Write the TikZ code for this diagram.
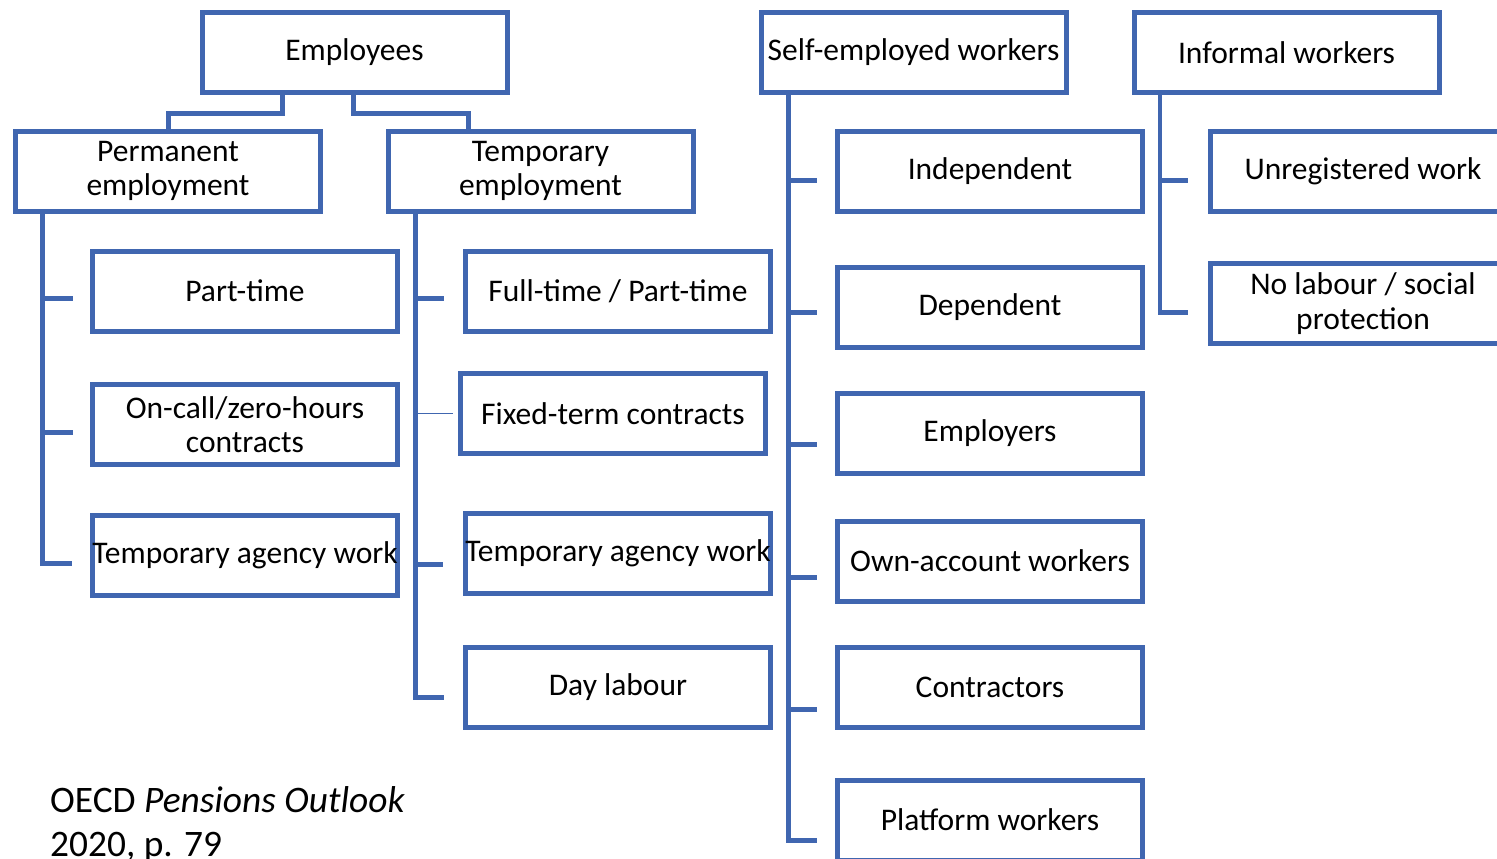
\documentclass[tikz,border=0pt]{standalone}
\usepackage{fontspec}
\setmainfont{Carlito}
\begin{document}
\definecolor{frameblue}{RGB}{64,102,176}
\begin{tikzpicture}[x=1pt,y=-1pt,
  box/.style={draw=frameblue, line width=5pt, rectangle, inner sep=0pt,
    minimum width=305pt, minimum height=80pt, align=center,
    font=\fontsize{31.5pt}{34.5pt}\selectfont},
  conn/.style={draw=frameblue, line width=5pt},
  thinconn/.style={draw=frameblue, line width=1.2pt},
  srctext/.style={anchor=base west, inner sep=0pt, font=\fontsize{37.4pt}{44pt}\selectfont}]
\useasboundingbox (0,0) rectangle (1497,859);
\clip (0,0) rectangle (1497,859);

% top-level categories
\node[box] (emp)  at (354.5,52.5) {Employees};
\node[box] (self) at (913.5,52.5) {Self-employed workers};
\node[box] (inf)  at (1286.5,52.5) {Informal workers};

% employee sub-categories
\node[box] (perm) at (168,171)   {Permanent\\employment};
\node[box] (temp) at (540.5,171) {Temporary\\employment};

% permanent employment forms
\node[box] (parttime) at (245,291)   {Part-time};
\node[box] (oncall)   at (245,424.5) {On-call/zero-hours\\contracts};
\node[box] (tawL)     at (245,555.5) {Temporary agency work};

% temporary employment forms
\node[box] (fullpart) at (618,291)   {Full-time / Part-time};
\node[box] (fixed)    at (613,413.5) {Fixed-term contracts};
\node[box] (tawM)     at (618,553.5) {Temporary agency work};
\node[box] (day)      at (618,687.5) {Day labour};

% self-employed forms
\node[box] (indep) at (990,171)   {Independent};
\node[box] (dep)   at (990,307.5) {Dependent};
\node[box] (empl)  at (990,433.5) {Employers};
\node[box] (own)   at (990,561)   {Own-account workers};
\node[box] (contr) at (990,687)   {Contractors};
\node[box] (plat)  at (990,820)   {Platform workers};

% informal forms
\node[box] (unreg) at (1363,171)   {Unregistered work};
\node[box] (nolab) at (1363,303.5) {No labour / social\\protection};

% source note
\node[srctext] (src1) at (50,812) {OECD \textit{Pensions Outlook}};
\node[srctext] (src2) at (50,856) {2020, p. 79};

% employees split into permanent and temporary
\draw[conn] ([xshift=-72.5pt]emp.south) -- ++(0,18.5) -| (perm.north);
\draw[conn] ([xshift=-1.5pt]emp.south) -- ++(0,18.5) -| ([xshift=-72.5pt]temp.north);

% permanent employment tree
\coordinate (pv) at ([xshift=29.5pt]perm.south west);
\coordinate (ps1) at ([xshift=-17.5pt,yshift=-7pt]parttime.west);
\coordinate (ps2) at ([xshift=-17.5pt,yshift=-7.5pt]oncall.west);
\coordinate (ps3) at ([xshift=-17.5pt,yshift=-7.5pt]tawL.west);
\draw[conn] (pv) |- (ps3);
\draw[conn] (pv |- ps1) -- (ps1);
\draw[conn] (pv |- ps2) -- (ps2);

% temporary employment tree
\coordinate (tv) at ([xshift=29.5pt]temp.south west);
\coordinate (ts1) at ([xshift=-19.5pt,yshift=-7pt]fullpart.west);
\coordinate (ts2) at ([xshift=-5pt]fixed.west);
\coordinate (ts3) at ([xshift=-19.5pt,yshift=-10.5pt]tawM.west);
\coordinate (ts4) at ([xshift=-19.5pt,yshift=-9.5pt]day.west);
\draw[conn] (tv) |- (ts4);
\draw[conn] (tv |- ts1) -- (ts1);
\draw[thinconn] (tv |- ts2) -- (ts2);
\draw[conn] (tv |- ts3) -- (ts3);

% self-employed tree
\coordinate (sv) at ([xshift=29.5pt]self.south west);
\coordinate (ss1) at ([xshift=-18.5pt,yshift=-9pt]indep.west);
\coordinate (ss2) at ([xshift=-18.5pt,yshift=-4.5pt]dep.west);
\coordinate (ss3) at ([xshift=-18.5pt,yshift=-10.5pt]empl.west);
\coordinate (ss4) at ([xshift=-18.5pt,yshift=-16pt]own.west);
\coordinate (ss5) at ([xshift=-18.5pt,yshift=-22pt]contr.west);
\coordinate (ss6) at ([xshift=-18.5pt,yshift=-20pt]plat.west);
\draw[conn] (sv) |- (ss6);
\draw[conn] (sv |- ss1) -- (ss1);
\draw[conn] (sv |- ss2) -- (ss2);
\draw[conn] (sv |- ss3) -- (ss3);
\draw[conn] (sv |- ss4) -- (ss4);
\draw[conn] (sv |- ss5) -- (ss5);

% informal tree
\coordinate (iv) at ([xshift=28.5pt]inf.south west);
\coordinate (is1) at ([xshift=-20.5pt,yshift=-9pt]unreg.west);
\coordinate (is2) at ([xshift=-20.5pt,yshift=-8.5pt]nolab.west);
\draw[draw=frameblue, line width=4pt] (iv) |- (is2);
\draw[conn] (iv |- is1) -- (is1);
\draw[conn] ([xshift=-2pt]iv |- is2) -- (is2);
\end{tikzpicture}
\end{document}
